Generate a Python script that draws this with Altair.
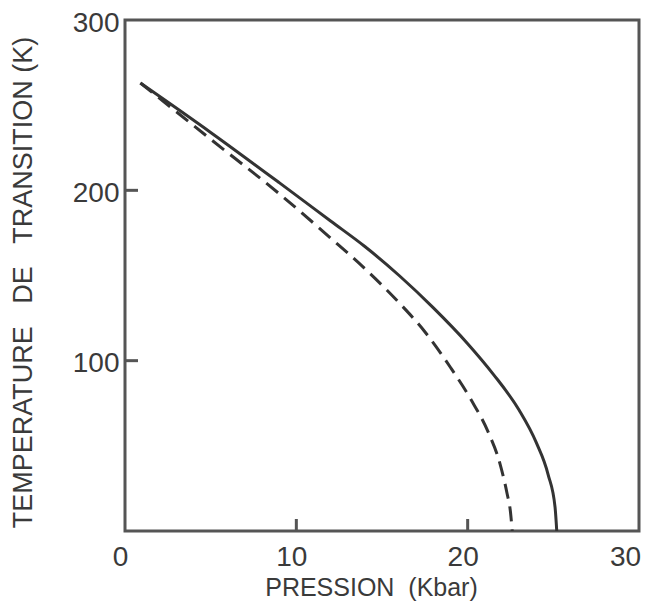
import altair as alt
import pandas as pd

# Solid curve (transition temperature vs pressure)
solid_p = [0.9, 5.0, 9.0, 12.0, 14.0, 16.0, 18.0, 20.0, 21.5, 23.0, 24.0, 24.7, 25.1, 25.2]
solid_t = [263, 234, 204.5, 182, 167, 150, 131, 110, 92, 71, 52, 33, 14, 0]

# Dashed curve
dash_p = [0.9, 5.0, 9.0, 12.0, 14.0, 16.0, 17.5, 19.0, 20.2, 21.2, 21.9, 22.3, 22.5, 22.6]
dash_t = [263, 230, 198, 172, 154, 134, 117, 96, 77, 58, 39, 22, 11, 0]

x_labels = [0, 10, 20, 30]
y_labels = [100, 200, 300]
x_ticks = [10, 20]
y_ticks = [100, 200]

W, H = 514, 511
FONT = "Liberation Sans"
TXT = "#3a3a3a"
LINE = "#333333"

solid_df = pd.DataFrame({"P": solid_p, "T": solid_t})
dash_df = pd.DataFrame({"P": dash_p, "T": dash_t})
xt_df = pd.DataFrame({"P": x_ticks})
yt_df = pd.DataFrame({"T": y_ticks})

xscale = alt.Scale(domain=[0, 30], nice=False, zero=False)
yscale = alt.Scale(domain=[0, 300], nice=False, zero=False)

xaxis = alt.Axis(
    values=x_labels, domain=False, ticks=False, tickSize=0, grid=False,
    labelFont=FONT, labelFontSize=28, labelColor=TXT, labelPadding=26,
    labelBaseline="middle", labelAlign="center", labelFlush=False,
    labelOffset={"condition": {"test": "datum.value == 30", "value": -14}, "value": -5},
    title="PRESSION\u00a0\u00a0(Kbar)", titleFont=FONT, titleFontSize=25,
    titleFontWeight="normal", titleColor=TXT, titleX=246, titleY=56,
    titleBaseline="middle", titleAlign="center", titleAnchor="start",
)
yaxis = alt.Axis(
    values=y_labels, domain=False, ticks=False, tickSize=0, grid=False,
    labelFont=FONT, labelFontSize=28, labelColor=TXT, labelPadding=6,
    labelBaseline="middle", labelFlush=False, labelOffset=3,
    title="TEMPERATURE\u00a0\u00a0\u00a0DE\u00a0\u00a0\u00a0TRANSITION\u00a0(K)",
    titleFont=FONT, titleFontSize=27, titleFontWeight="normal", titleColor=TXT,
    titleX=-102, titleY=262, titleAngle=270, titleBaseline="middle",
    titleAlign="center", titleAnchor="start",
)

solid = alt.Chart(solid_df).mark_line(
    color=LINE, strokeWidth=3, interpolate="monotone"
).encode(
    x=alt.X("P:Q", scale=xscale, axis=xaxis),
    y=alt.Y("T:Q", scale=yscale, axis=yaxis),
)

dashed = alt.Chart(dash_df).mark_line(
    color=LINE, strokeWidth=3, strokeDash=[15, 8], interpolate="monotone"
).encode(
    x=alt.X("P:Q", scale=xscale),
    y=alt.Y("T:Q", scale=yscale),
)

xticks = alt.Chart(xt_df).mark_rule(color="#555", strokeWidth=3).encode(
    x=alt.X("P:Q", scale=xscale),
    y=alt.value(H),
    y2=alt.value(H - 12),
)

yticks = alt.Chart(yt_df).mark_rule(color="#555", strokeWidth=3).encode(
    y=alt.Y("T:Q", scale=yscale),
    x=alt.value(0),
    x2=alt.value(13),
)

chart = alt.layer(solid, dashed, xticks, yticks).properties(
    width=W, height=H,
    autosize=alt.AutoSizeParams(type="none"),
    padding={"left": 117, "top": 12, "right": 3, "bottom": 70},
    background="white",
).configure_view(stroke="#555555", strokeWidth=3)

chart.save("out.html", embed_options={"renderer": "svg", "actions": False})
